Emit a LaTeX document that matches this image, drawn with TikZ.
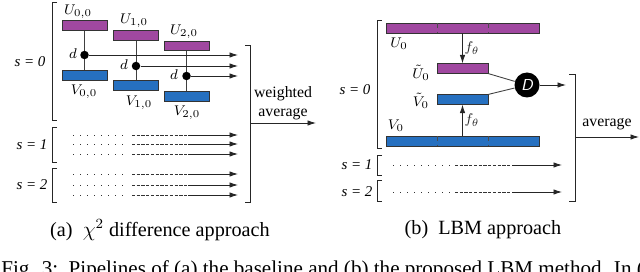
\documentclass[tikz,border=0pt]{standalone}
\usepackage{fontspec}
\setmainfont{Liberation Serif}
\usepackage{xcolor}
\usetikzlibrary{arrows.meta,calc}

\definecolor{boxpurple}{RGB}{160,72,160}
\definecolor{boxblue}{RGB}{38,112,192}

\begin{document}
\begin{tikzpicture}[x=0.2mm, y=-0.2mm,
  ubox/.style={draw=black!80, fill=boxpurple, minimum width=9mm, minimum height=1.9mm, inner sep=0pt},
  vbox/.style={ubox, fill=boxblue},
  dnode/.style={circle, fill=black, minimum size=1.7mm, inner sep=0pt},
  lbl/.style={font=\fontsize{8.5}{10}\selectfont, inner sep=1pt},
  link/.style={black!75, line width=0.5pt},
  flow/.style={black!85, line width=0.5pt, -{Latex[length=1.7mm,width=1.1mm]}},
  brk/.style={black!85, line width=0.5pt},
  captxt/.style={font=\fontsize{11.5}{13}\selectfont}]

\useasboundingbox (0,0) rectangle (640,272);
\clip (0,0) rectangle (640,272);

% ---- (a) chi^2 difference approach ----
% brackets
\draw[brk] (57,2) -- (52,2) -- (52,120) -- (57,120);
\draw[brk] (57,127) -- (52,127) -- (52,162) -- (57,162);
\draw[brk] (57,168) -- (52,168) -- (52,202) -- (57,202);
\draw[brk] (245,45) -- (250,45) -- (250,202) -- (245,202);
\node[lbl] at (30,62) {\textit{s = 0}};
\node[lbl] at (32,145) {\textit{s = 1}};
\node[lbl] at (32,185) {\textit{s = 2}};

% patches
\node[ubox] (u00) at (84.5,25.5) {};
\node[vbox] (v00) at (84.5,75.5) {};
\node[ubox] (u10) at (136,35.5) {};
\node[vbox] (v10) at (136,85.5) {};
\node[ubox] (u20) at (186.5,46) {};
\node[vbox] (v20) at (186.5,96.5) {};
\node[lbl] at (78,12) {$U_{0,0}$};
\node[lbl] at (84,92) {$V_{0,0}$};
\node[lbl] at (134,21) {$U_{1,0}$};
\node[lbl] at (139,103) {$V_{1,0}$};
\node[lbl] at (184,32) {$U_{2,0}$};
\node[lbl] at (187,113) {$V_{2,0}$};

\draw[link] (u00) -- (v00);
\draw[link] (u10) -- (v10);
\draw[link] (u20) -- (v20);

% distances
\node[dnode] (d0) at (84.5,55) {};
\node[dnode] (d1) at (136,66) {};
\node[dnode] (d2) at (186.5,76) {};
\node[lbl] at (73,54) {$d$};
\node[lbl] at (124,65) {$d$};
\node[lbl] at (174,75) {$d$};

\coordinate (e0) at (238,55);
\coordinate (e1) at (238,66);
\coordinate (e2) at (238,76);
\draw[flow] (d0) -- (e0);
\draw[flow] (d1) -- (e1);
\draw[flow] (d2) -- (e2);

% other scales
\foreach \y in {135,144,154,174,185,195} {
  \draw[black!80, dash pattern=on 0.6pt off 3.4pt] (73,\y) -- (128,\y);
  \draw[black!80, dash pattern=on 1.8pt off 0.9pt] (132,\y) -- (187,\y);
  \draw[flow] (188,\y) -- (238,\y);
}

\node[align=center, font=\fontsize{9}{10.5}\selectfont] (wavg) at (283,103) {weighted\\average};
\coordinate (wa0) at (250,123);
\coordinate (wa1) at (316,123);
\draw[flow] (wa0) -- (wa1);

\node[captxt] at (160,230) {(a)\ \ $\chi^2$ difference approach};

% ---- (b) LBM approach ----
\draw[brk] (382,20) -- (377,20) -- (377,148) -- (382,148);
\draw[brk] (382,155) -- (377,155) -- (377,175) -- (382,175);
\draw[brk] (382,180) -- (377,180) -- (377,201) -- (382,201);
\draw[brk] (569,74) -- (575,74) -- (575,201) -- (569,201);
\node[lbl] at (355,90) {\textit{s = 0}};
\node[lbl] at (357,165) {\textit{s = 1}};
\node[lbl] at (357,192) {\textit{s = 2}};

\node[ubox, minimum width=30.6mm, minimum height=2mm] (u0) at (462.5,28) {};
\node[vbox, minimum width=30.6mm, minimum height=2mm] (v0) at (462.5,141) {};
\foreach \x in {437,488} {
  \draw[black!70, densely dashed, line width=0.4pt] (\x,23) -- (\x,33);
  \draw[black!70, densely dashed, line width=0.4pt] (\x,136) -- (\x,146);
}
\node[ubox, minimum width=10.2mm] (ut) at (462.5,68.5) {};
\node[vbox, minimum width=10.2mm] (vt) at (462.5,99.5) {};

\node[lbl] at (399,44) {$U_0$};
\node[lbl] at (396,126) {$V_0$};
\node[lbl] at (421,73) {$\tilde{U}_0$};
\node[lbl] at (421,101) {$\tilde{V}_0$};

\draw[flow] (u0) -- node[lbl, right] {$f_\theta$} (ut);
\draw[flow] (v0) -- node[lbl, right] {$f_\theta$} (vt);

\node[circle, fill=black, minimum size=5mm, inner sep=0pt, text=white,
  font=\sffamily\itshape\fontsize{9}{10}\selectfont] (dd) at (527,85) {D};
\draw[link] (ut.south east) -- (dd);
\draw[link] (vt.north east) -- (dd);
\coordinate (dout) at (566,85);
\draw[flow] (dd) -- (dout);

\foreach \y in {165,192} {
  \draw[black!80, dash pattern=on 0.6pt off 3.4pt] (393,\y) -- (450,\y);
  \draw[black!80, dash pattern=on 1.8pt off 0.9pt] (455,\y) -- (510,\y);
  \draw[flow] (512,\y) -- (562,\y);
}

\node[font=\fontsize{9}{10.5}\selectfont] (avg) at (607,124) {average};
\coordinate (av0) at (575,137);
\coordinate (av1) at (639,137);
\draw[flow] (av0) -- (av1);

\node[captxt] at (483,230) {(b)\ \ LBM approach};

% figure caption (cut by the page edge)
\node[font=\fontsize{12}{14}\selectfont, anchor=base west, inner sep=0pt] at (1,276)
  {Fig. 3:\ \ Pipelines of (a) the baseline and (b) the proposed LBM method. In (a)};

\end{tikzpicture}
\end{document}
